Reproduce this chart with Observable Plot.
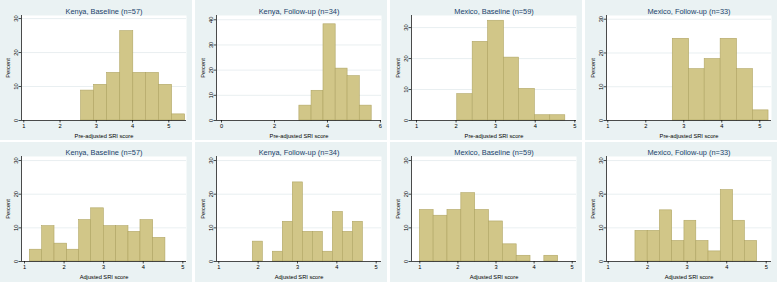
<!DOCTYPE html>
<html><head><meta charset="utf-8">
<script src="https://cdn.jsdelivr.net/npm/d3@7"></script>
<script src="https://cdn.jsdelivr.net/npm/@observablehq/plot@0.6"></script>
<style>
html,body{margin:0;padding:0;background:#fff}
body{width:778px;height:282px;position:relative;overflow:hidden;font-family:"Liberation Sans",Arial,sans-serif}
.panel{position:absolute;background:#eaf2f3}
.panel svg{display:block;background:transparent}
</style></head><body>
<script>
// ---- Data ----
const panelTitles = [
  "Kenya, Baseline (n=57)", "Kenya, Follow-up (n=34)", "Mexico, Baseline (n=59)", "Mexico, Follow-up (n=33)",
  "Kenya, Baseline (n=57)", "Kenya, Follow-up (n=34)", "Mexico, Baseline (n=59)", "Mexico, Follow-up (n=33)"
];
const xTitles = [
  "Pre-adjusted SRI score", "Pre-adjusted SRI score", "Pre-adjusted SRI score", "Pre-adjusted SRI score",
  "Adjusted SRI score", "Adjusted SRI score", "Adjusted SRI score", "Adjusted SRI score"
];
const yTitle = "Percent";

// bin edges and percent per bin
const kenyaBasePreEdges = [2.58, 2.94, 3.30, 3.66, 4.02, 4.37, 4.73, 5.09, 5.45];
const kenyaBasePrePct   = [8.8, 10.5, 14.0, 26.3, 14.0, 14.0, 10.5, 1.8];
const kenyaFollowPreEdges = [2.94, 3.40, 3.85, 4.31, 4.76, 5.22, 5.67];
const kenyaFollowPrePct   = [5.9, 11.8, 38.2, 20.6, 17.6, 5.9];
const mexicoBasePreEdges = [2.03, 2.42, 2.81, 3.21, 3.59, 3.99, 4.38, 4.76];
const mexicoBasePrePct   = [8.5, 25.4, 32.2, 20.3, 10.2, 1.7, 1.7];
const mexicoFollowPreEdges = [2.71, 3.14, 3.55, 3.97, 4.40, 4.82, 5.23];
const mexicoFollowPrePct   = [24.2, 15.2, 18.2, 24.2, 15.2, 3.0];
const kenyaBaseAdjEdges = [1.135, 1.446, 1.758, 2.078, 2.381, 2.684, 3.004, 3.316, 3.627, 3.93, 4.25, 4.56];
const kenyaBaseAdjPct   = [3.5, 10.5, 5.3, 3.5, 12.3, 15.8, 10.5, 10.5, 8.8, 12.3, 7.0];
const kenyaFollowAdjEdges = [1.864, 2.119, 2.373, 2.627, 2.881, 3.136, 3.390, 3.644, 3.898, 4.153, 4.407, 4.661];
const kenyaFollowAdjPct   = [5.9, 0, 2.9, 11.8, 23.5, 8.8, 8.8, 2.9, 14.7, 8.8, 11.8];
const mexicoBaseAdjEdges = [1.0, 1.363, 1.726, 2.09, 2.453, 2.816, 3.18, 3.543, 3.906, 4.269, 4.632];
const mexicoBaseAdjPct   = [15.3, 13.6, 15.3, 20.3, 15.3, 11.9, 5.1, 1.7, 0, 1.7];
const mexicoFollowAdjEdges = [1.69, 2.00, 2.31, 2.62, 2.93, 3.23, 3.54, 3.85, 4.16, 4.46, 4.77];
const mexicoFollowAdjPct   = [9.1, 9.1, 15.2, 6.1, 12.1, 6.1, 3.0, 21.2, 12.1, 6.1];

const edgesList = [kenyaBasePreEdges, kenyaFollowPreEdges, mexicoBasePreEdges, mexicoFollowPreEdges,
                   kenyaBaseAdjEdges, kenyaFollowAdjEdges, mexicoBaseAdjEdges, mexicoFollowAdjEdges];
const pctList = [kenyaBasePrePct, kenyaFollowPrePct, mexicoBasePrePct, mexicoFollowPrePct,
                 kenyaBaseAdjPct, kenyaFollowAdjPct, mexicoBaseAdjPct, mexicoFollowAdjPct];

// tick labels
const xTicksDefault = [1, 2, 3, 4, 5];
const xTicksKenyaFollowPre = [0, 2, 4, 6];
const yTicksDefault = [0, 10, 20, 30];
const yTicksKenyaFollowPre = [0, 10, 20, 30, 40];
const xTicksList = [xTicksDefault, xTicksKenyaFollowPre, xTicksDefault, xTicksDefault,
                    xTicksDefault, xTicksDefault, xTicksDefault, xTicksDefault];
const yTicksList = [yTicksDefault, yTicksKenyaFollowPre, yTicksDefault, yTicksDefault,
                    yTicksDefault, yTicksDefault, yTicksDefault, yTicksDefault];

// axis ranges of each panel
const xDomains = [[0.937, 5.488], [-0.189, 6.04], [0.874, 5.043], [0.966, 5.308],
                  [0.924, 5.093], [0.942, 5.135], [0.782, 5.113], [0.957, 5.134]];
const yDomains = [[0, 30.9], [0, 41.7], [0, 33.9], [0, 31.1],
                  [0, 31.2], [0, 31.2], [0, 31.2], [0, 31.2]];

// ---- Layout ----
const colX = [0, 195, 390, 585];
const rowY = [0, 142];
const panelW = 192;
const rowH = [140, 140];
const rowMargins = [{top: 15, bottom: 20}, {top: 14, bottom: 21}];

const barFill = "#d1c688";
const barStroke = "#b0a563";
const titleColor = "#1a3f6a";

for (let i = 0; i < 8; i++) {
  const row = Math.floor(i / 4), col = i % 4;
  const bins = pctList[i].map((p, k) => ({x1: edgesList[i][k], x2: edgesList[i][k + 1], pct: p}))
                         .filter(d => d.pct > 0);
  const div = document.createElement("div");
  div.className = "panel";
  div.style.left = colX[col] + "px";
  div.style.top = rowY[row] + "px";
  div.style.width = panelW + "px";
  div.style.height = rowH[row] + "px";
  const m = rowMargins[row];
  const plot = Plot.plot({
    width: panelW,
    height: rowH[row],
    marginLeft: 21,
    marginRight: 6,
    marginTop: m.top,
    marginBottom: m.bottom,
    style: {fontSize: "5.7px", fontFamily: "'Liberation Sans', Arial, sans-serif", color: "#000", background: "transparent"},
    x: {domain: xDomains[i]},
    y: {domain: yDomains[i]},
    marks: [
      Plot.frame({fill: "white", stroke: "none"}),
      Plot.gridY(yTicksList[i].filter(t => t > 0), {stroke: "#dfe8eb", strokeOpacity: 1, strokeWidth: 0.7}),
      Plot.rectY(bins, {x1: "x1", x2: "x2", y: "pct", fill: barFill, stroke: barStroke, strokeWidth: 0.6}),
      Plot.ruleY([yDomains[i][0]], {stroke: "#000", strokeWidth: 0.7}),
      Plot.ruleX([xDomains[i][0]], {stroke: "#000", strokeWidth: 0.7}),
      Plot.axisY(yTicksList[i], {tickSize: 2.5, tickPadding: 1, tickRotate: -90, label: yTitle,
        labelAnchor: "center", labelOffset: 16, labelArrow: false, strokeWidth: 0.7}),
      Plot.axisX(xTicksList[i], {tickSize: 2.5, tickPadding: 1, label: xTitles[i],
        labelAnchor: "center", labelOffset: 17, labelArrow: false, strokeWidth: 0.7}),
      Plot.text([panelTitles[i]], {frameAnchor: "top", lineAnchor: "bottom", dy: -1.8,
        fontSize: 7.4, fill: titleColor})
    ]
  });
  div.appendChild(plot);
  document.body.appendChild(div);
}
</script>
</body></html>
